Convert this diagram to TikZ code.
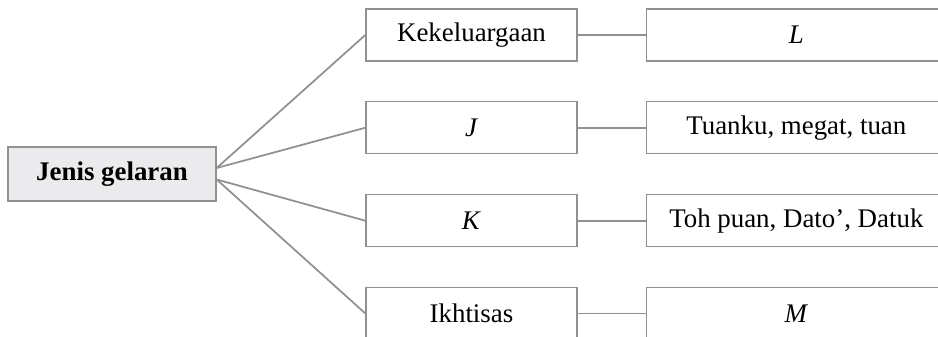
\documentclass[tikz,border=0pt]{standalone}
\usepackage{fontspec}
\setmainfont{Liberation Serif}
\usetikzlibrary{positioning}
\definecolor{boxgray}{RGB}{145,145,145}
\definecolor{rootfill}{RGB}{235,235,237}
\tikzset{
  jbox/.style={draw=boxgray, line width=0.8pt, rectangle, minimum height=1.04cm, inner sep=0pt,
    font=\fontsize{15.3}{18}\selectfont},
  midbox/.style={jbox, minimum width=4.22cm},
  valbox/.style={jbox, minimum width=6cm},
  link/.style={draw=boxgray, line width=1pt}
}

\begin{document}
\begin{tikzpicture}[x=0.02cm, y=-0.02cm]
      \clip (0,0) rectangle (938,337);
      \node[jbox, minimum width=4.16cm, minimum height=1.08cm, fill=rootfill] (jenis) at (112,174) {\textbf{Jenis gelaran}};
      \coordinate[above=0.12cm of jenis.east] (up);
      \coordinate[below=0.11cm of jenis.east] (down);
      \node[midbox] (m1) at (471.5,35) {Kekeluargaan};
      \node[midbox, below of=m1, node distance=1.855cm] (m2) {\textit{J}};
      \node[midbox, below of=m2, node distance=1.86cm] (m3) {\textit{K}};
      \node[midbox, below of=m3, node distance=1.855cm] (m4) {Ikhtisas};
      % value boxes run past the right edge
      \node[valbox, right=1.36cm of m1] (v1) {\textit{L}};
      \node[valbox, right=1.36cm of m2] (v2) {Tuanku, megat, tuan};
      \node[valbox, right=1.36cm of m3] (v3) {Toh puan, Dato', Datuk};
      \node[valbox, right=1.36cm of m4] (v4) {\textit{M}};
      \draw[link] (up) -- (m1.west);
      \draw[link] (up) -- (m2.west);
      \draw[link] (down) -- (m3.west);
      \draw[link] (down) -- (m4.west);
      \draw[link] (m1) -- (v1);
      \draw[link] (m2) -- (v2);
      \draw[link] (m3) -- (v3);
      \draw[link] (m4) -- (v4);
\end{tikzpicture}
\end{document}
